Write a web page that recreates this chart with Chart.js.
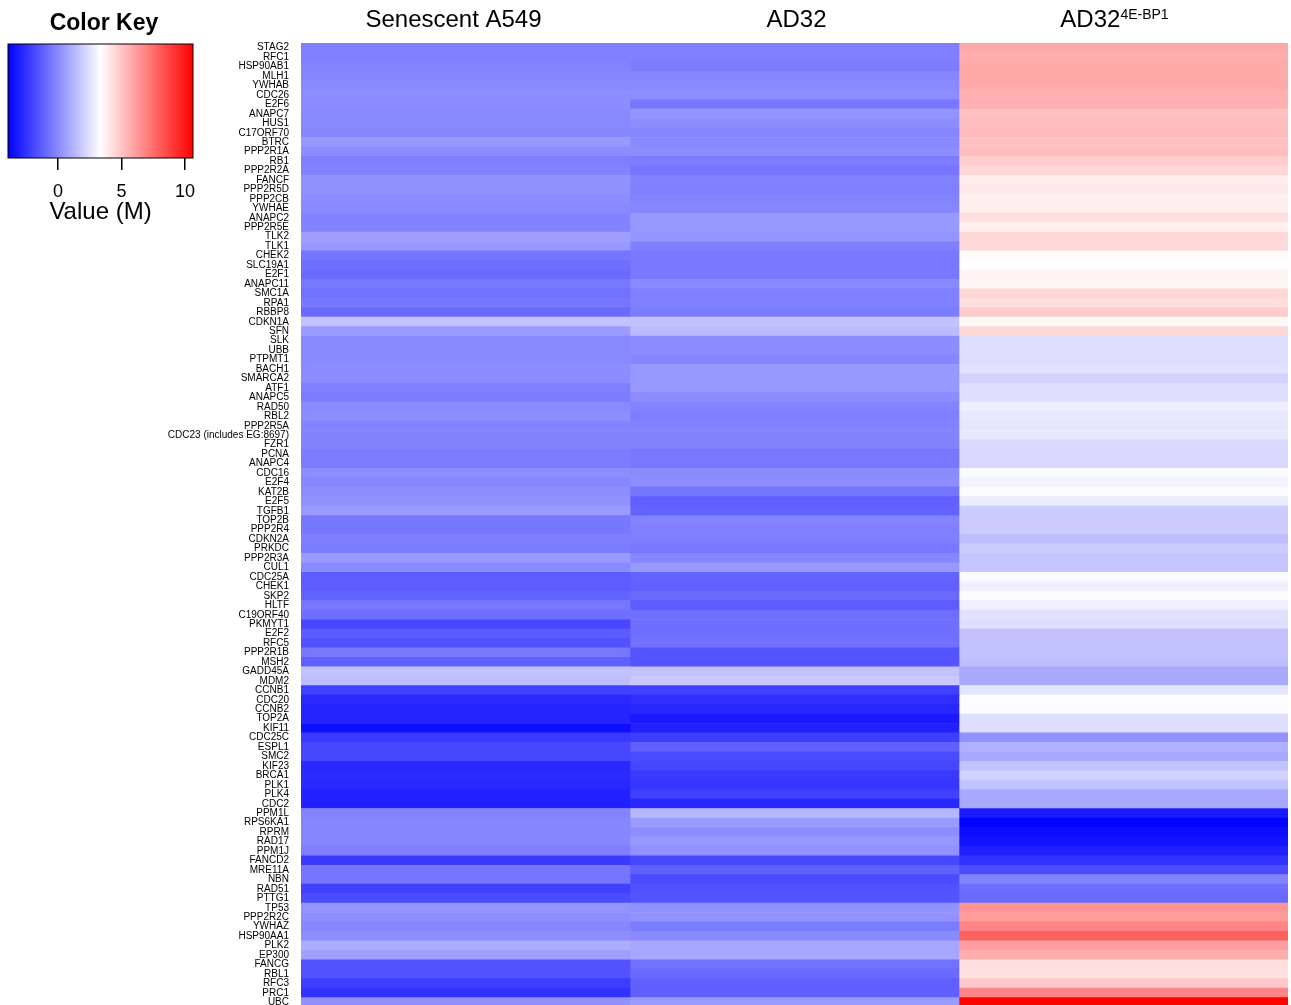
<!DOCTYPE html>
<html>
<head>
<meta charset="utf-8">
<script src="https://cdn.jsdelivr.net/npm/chart.js@4"></script>
<style>
  html, body { margin: 0; padding: 0; background: #fff; overflow: hidden; }
  #wrap { position: relative; width: 1291px; height: 1005px; overflow: hidden; }
  #mainWrap { position: absolute; left: 0; top: 0; width: 1291px; height: 1025px; }
  #keyWrap { position: absolute; left: 0; top: 0; width: 215px; height: 224px; }
</style>
</head>
<body>
<div id="wrap">
  <div id="mainWrap"><canvas id="main"></canvas></div>
  <div id="keyWrap"><canvas id="key"></canvas></div>
</div>
<script>
const genes = ['STAG2','RFC1','HSP90AB1','MLH1','YWHAB','CDC26','E2F6','ANAPC7','HUS1','C17ORF70',
  'BTRC','PPP2R1A','RB1','PPP2R2A','FANCF','PPP2R5D','PPP2CB','YWHAE','ANAPC2','PPP2R5E',
  'TLK2','TLK1','CHEK2','SLC19A1','E2F1','ANAPC11','SMC1A','RPA1','RBBP8','CDKN1A',
  'SFN','SLK','UBB','PTPMT1','BACH1','SMARCA2','ATF1','ANAPC5','RAD50','RBL2',
  'PPP2R5A','CDC23 (includes EG:8697)','FZR1','PCNA','ANAPC4','CDC16','E2F4','KAT2B','E2F5','TGFB1',
  'TOP2B','PPP2R4','CDKN2A','PRKDC','PPP2R3A','CUL1','CDC25A','CHEK1','SKP2','HLTF',
  'C19ORF40','PKMYT1','E2F2','RFC5','PPP2R1B','MSH2','GADD45A','MDM2','CCNB1','CDC20',
  'CCNB2','TOP2A','KIF11','CDC25C','ESPL1','SMC2','KIF23','BRCA1','PLK1','PLK4',
  'CDC2','PPM1L','RPS6KA1','RPRM','RAD17','PPM1J','FANCD2','MRE11A','NBN','RAD51',
  'PTTG1','TP53','PPP2R2C','YWHAZ','HSP90AA1','PLK2','EP300','FANCG','RBL1','RFC3',
  'PRC1','UBC'];

const senescentA549 = [-0.3,-0.3,-0.2,-0.1,0.0,0.1,0.1,0.0,0.0,-0.1,
  0.4,0.1,-0.3,-0.2,0.2,0.2,0.1,0.0,-0.2,-0.2,
  0.6,0.4,-0.6,-0.8,-0.9,-0.5,-0.7,-0.5,-0.9,1.6,
  0.5,0.0,0.0,0.0,0.1,0.1,-0.3,-0.4,0.0,0.1,
  -0.2,-0.2,-0.2,-0.4,-0.4,0.1,-0.1,0.1,0.2,0.5,
  -0.5,-0.5,-0.3,-0.4,0.5,0.0,-1.3,-1.3,-1.1,-0.5,
  -0.8,-1.9,-1.3,-1.6,-0.5,-1.2,1.6,1.5,-2.1,-2.8,
  -2.9,-2.9,-3.5,-2.3,-1.9,-1.9,-2.8,-2.7,-2.8,-3.0,
  -3.0,-0.2,-0.1,-0.1,-0.1,-0.3,-2.3,-0.6,-0.6,-2.1,
  -1.8,0.3,0.1,-0.1,0.1,1.0,0.6,-1.6,-1.6,-2.2,
  -2.5,0.2];

const ad32 = [-0.3,-0.3,-0.4,-0.1,0.0,0.1,-0.5,0.3,0.1,-0.1,
  0.0,0.1,-0.4,-0.6,-0.2,-0.3,-0.2,-0.1,0.4,0.4,
  0.3,-0.3,-0.5,-0.5,-0.5,0.0,-0.3,-0.3,-0.4,1.6,
  1.4,0.1,0.1,-0.1,0.4,0.4,0.4,0.1,-0.2,-0.3,
  -0.2,-0.2,-0.2,-0.5,-0.5,0.0,0.1,-0.6,-1.2,-1.1,
  -0.2,-0.3,-0.3,-0.5,-0.1,0.4,-1.1,-1.2,-0.9,-1.3,
  -0.8,-0.8,-0.8,-0.7,-1.5,-1.5,1.6,1.8,-2.1,-2.6,
  -2.8,-3.2,-3.0,-2.2,-1.2,-1.8,-1.9,-2.3,-2.4,-2.1,
  -2.8,1.3,0.5,0.1,0.4,0.2,-1.9,-1.2,-1.8,-1.6,
  -1.5,0.2,0.2,-0.4,0.0,0.8,0.8,-0.7,-0.9,-1.2,
  -1.2,0.5];

const ad32_4ebp1 = [5.8,5.7,5.8,5.8,5.8,5.6,5.6,5.1,5.2,5.3,
  5.1,5.2,4.8,4.5,3.9,4.0,3.8,3.8,4.3,3.8,
  4.5,4.4,3.5,3.4,3.7,3.6,4.5,4.3,4.8,3.5,
  4.5,2.4,2.4,2.4,2.5,2.1,2.4,2.4,2.9,2.7,
  2.6,2.7,2.3,2.2,2.2,3.2,3.0,3.2,2.8,1.9,
  1.9,1.9,1.5,1.9,1.7,1.7,3.2,2.9,3.2,2.9,
  2.5,2.4,1.6,1.6,1.6,1.5,0.9,0.9,2.6,3.3,
  3.2,2.4,2.4,0.2,1.1,0.9,1.6,2.1,1.6,0.9,
  0.9,-3.2,-3.9,-3.6,-3.4,-3.0,-2.5,-1.8,-0.2,-0.8,
  -0.9,6.4,6.2,6.9,7.9,6.1,5.7,4.3,4.2,4.9,
  6.8,10.6];

const columns = ['Senescent A549', 'AD32', 'AD32'];
const columnSup = ['', '', '4E-BP1'];
const series = [senescentA549, ad32, ad32_4ebp1];

const keyMin = -3.94;
const keyMax = 10.63;
const keyTicks = [0, 5, 10];

const FONT = '"Liberation Sans", Arial, Helvetica, sans-serif';
// header labels sit a little off the column centres in the original
const headerShift = [-12, 2, -9];

// blue -> white -> red, like gplots bluered
function valueColor(v) {
  let t = (v - keyMin) / (keyMax - keyMin);
  t = Math.max(0, Math.min(1, t));
  if (t < 0.5) {
    const c = Math.round(510 * t);
    return `rgb(${c},${c},255)`;
  }
  const c = Math.round(510 * (1 - t));
  return `rgb(255,${c},${c})`;
}

const headerPlugin = {
  id: 'header',
  afterDraw(chart) {
    const ctx = chart.ctx;
    const x = chart.scales.x;
    ctx.save();
    ctx.fillStyle = '#000';
    ctx.textAlign = 'left';
    ctx.textBaseline = 'alphabetic';
    columns.forEach((name, j) => {
      const cx = x.getPixelForValue(j + 0.5) + headerShift[j];
      ctx.font = '24px ' + FONT;
      const w1 = ctx.measureText(name).width;
      let w2 = 0;
      if (columnSup[j]) {
        ctx.font = '14px ' + FONT;
        w2 = ctx.measureText(columnSup[j]).width;
      }
      const start = cx - (w1 + w2) / 2;
      ctx.font = '24px ' + FONT;
      ctx.fillText(name, start, 27);
      if (columnSup[j]) {
        ctx.font = '14px ' + FONT;
        ctx.fillText(columnSup[j], start + w1, 19);
      }
    });
    ctx.restore();
  }
};

new Chart(document.getElementById('main'), {
  type: 'bar',
  data: {
    labels: genes,
    datasets: series.map((vals, j) => ({
      label: columns[j] + columnSup[j],
      data: vals.map(() => 1),
      backgroundColor: vals.map(valueColor),
      borderWidth: 0,
      barPercentage: 1,
      categoryPercentage: 1
    }))
  },
  options: {
    indexAxis: 'y',
    responsive: true,
    maintainAspectRatio: false,
    animation: false,
    layout: { padding: { top: 43, right: 3, bottom: 3, left: 0 } },
    plugins: { legend: { display: false }, tooltip: { enabled: false } },
    scales: {
      x: { type: 'linear', stacked: true, min: 0, max: 3, display: false },
      y: {
        stacked: true,
        grid: { display: false, drawTicks: false },
        border: { display: false },
        afterFit: s => { s.width = 301; },
        ticks: {
          autoSkip: false,
          color: '#000',
          padding: 12,
          font: { size: 10, family: FONT }
        }
      }
    }
  },
  plugins: [headerPlugin]
});

const keyPlugin = {
  id: 'keyBox',
  beforeDraw(chart) {
    const ctx = chart.ctx;
    const a = chart.chartArea;
    ctx.save();
    const g = ctx.createLinearGradient(a.left, 0, a.right, 0);
    g.addColorStop(0, valueColor(keyMin));
    g.addColorStop(0.5, valueColor((keyMin + keyMax) / 2));
    g.addColorStop(1, valueColor(keyMax));
    ctx.fillStyle = g;
    ctx.fillRect(a.left, a.top, a.right - a.left, a.bottom - a.top);
    ctx.strokeStyle = '#000';
    ctx.lineWidth = 1;
    ctx.strokeRect(a.left, a.top, a.right - a.left, a.bottom - a.top);
    ctx.fillStyle = '#000';
    ctx.font = 'bold 23px ' + FONT;
    ctx.textAlign = 'center';
    ctx.textBaseline = 'alphabetic';
    ctx.fillText('Color Key', 104, 30);
    ctx.restore();
  }
};

new Chart(document.getElementById('key'), {
  type: 'scatter',
  data: { datasets: [] },
  options: {
    responsive: true,
    maintainAspectRatio: false,
    animation: false,
    layout: { padding: { left: 8, right: 22, top: 44, bottom: 0 } },
    plugins: { legend: { display: false }, tooltip: { enabled: false } },
    scales: {
      x: {
        type: 'linear',
        min: keyMin,
        max: keyMax,
        afterBuildTicks: s => { s.ticks = keyTicks.map(v => ({ value: v })); },
        grid: { drawOnChartArea: false, drawTicks: true, tickLength: 12, color: '#000', lineWidth: 1.5 },
        border: { display: false },
        ticks: { color: '#000', padding: 13, maxRotation: 0, font: { size: 18, family: FONT, lineHeight: 1 } },
        title: { display: true, text: 'Value (M)', color: '#000', padding: { top: -14, bottom: 0 }, font: { size: 24, family: FONT, lineHeight: 1 } }
      },
      y: { display: false, min: 0, max: 1 }
    }
  },
  plugins: [keyPlugin]
});
</script>
</body>
</html>
